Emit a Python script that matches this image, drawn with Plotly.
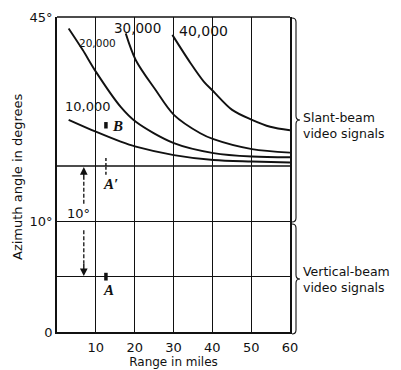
import plotly.graph_objects as go

# ---------------- data ----------------
range_10k = [3.0, 10.0, 16.4, 20.3, 30.1, 40.3, 50.2, 60.0]
angle_10k = [24.3, 21.9, 19.9, 18.9, 17.2, 16.2, 15.9, 15.7]

range_20k = [3.0, 6.6, 10.0, 16.4, 20.3, 30.1, 40.3, 50.2, 60.0]
angle_20k = [42.7, 38.4, 34.0, 26.9, 23.9, 19.6, 17.6, 16.9, 16.75]

range_30k = [17.7, 20.3, 25.4, 30.1, 36.9, 40.3, 50.2, 60.0]
angle_30k = [41.7, 36.3, 30.3, 25.3, 21.6, 20.4, 18.4, 17.7]

range_40k = [29.7, 34.4, 37.8, 40.3, 45.1, 50.2, 54.9, 60.0]
angle_40k = [41.4, 35.7, 32.0, 30.0, 26.3, 24.3, 22.9, 22.2]

curve_labels = ["10,000", "20,000", "30,000", "40,000"]
label_x = [8.0, 10.5, 20.8, 37.7]
label_y = [26.9, 39.8, 42.8, 42.2]
label_size = [13, 10.5, 13.5, 14]

# marker points (range in miles, azimuth in degrees)
point_names = ["A", "B", "A'"]
point_range = [12.6, 12.6, 12.6]
point_angle = [5.0, 23.2, 15.0]

x_ticks = [10, 20, 30, 40, 50, 60]
upper_ticks = [45]
upper_ticktext = ["45°"]
lower_ticks = [0, 5, 10]
lower_ticktext = ["0", "", "10°"]

FONT = "DejaVu Sans"
INK = "#111111"

fig = go.Figure()

for xs, ys in [(range_10k, angle_10k), (range_20k, angle_20k),
               (range_30k, angle_30k), (range_40k, angle_40k)]:
    fig.add_trace(go.Scatter(x=xs, y=ys, mode="lines", xaxis="x", yaxis="y",
                             line=dict(color=INK, width=1.9, shape="spline", smoothing=0.9),
                             showlegend=False, hoverinfo="skip"))

# B bar (upper scale)
fig.add_trace(go.Scatter(x=[point_range[1], point_range[1]],
                         y=[point_angle[1] - 0.65, point_angle[1] + 0.65],
                         mode="lines", xaxis="x", yaxis="y",
                         line=dict(color=INK, width=3.5), showlegend=False))
# A bar (lower scale)
fig.add_trace(go.Scatter(x=[point_range[0], point_range[0]],
                         y=[point_angle[0] - 0.35, point_angle[0] + 0.35],
                         mode="lines", xaxis="x", yaxis="y2",
                         line=dict(color=INK, width=3.5), showlegend=False))
# A' dashed tick, crossing the 15 degree boundary
fig.add_trace(go.Scatter(x=[point_range[2], point_range[2]],
                         y=[point_angle[2], point_angle[2] + 1.8],
                         mode="lines", xaxis="x", yaxis="y",
                         line=dict(color=INK, width=1.4, dash="3px,2px"), showlegend=False))
fig.add_trace(go.Scatter(x=[point_range[2], point_range[2]],
                         y=[point_angle[2] - 0.8, point_angle[2]],
                         mode="lines", xaxis="x", yaxis="y2",
                         line=dict(color=INK, width=1.4, dash="3px,2px"), showlegend=False))

# 10 degree separation arrows (between A' at 15 and A at 5)
arrow_x = 6.9
fig.add_trace(go.Scatter(x=[arrow_x, arrow_x], y=[11.6, 13.8], mode="lines",
                         xaxis="x", yaxis="y2",
                         line=dict(color=INK, width=1.3, dash="4px,2px"), showlegend=False))
fig.add_trace(go.Scatter(x=[arrow_x, arrow_x], y=[9.2, 6.2], mode="lines",
                         xaxis="x", yaxis="y2",
                         line=dict(color=INK, width=1.3, dash="4px,2px"), showlegend=False))

annotations = []
annotations.append(dict(x=arrow_x, y=point_angle[2] - 0.1, xref="x", yref="y2",
                        ax=0, ay=14, axref="pixel", ayref="pixel", text="",
                        showarrow=True, arrowhead=2, arrowsize=1.1, arrowwidth=1.4,
                        arrowcolor=INK))
annotations.append(dict(x=arrow_x, y=point_angle[0] + 0.05, xref="x", yref="y2",
                        ax=0, ay=-14, axref="pixel", ayref="pixel", text="",
                        showarrow=True, arrowhead=2, arrowsize=1.1, arrowwidth=1.4,
                        arrowcolor=INK))
annotations.append(dict(x=5.6, y=10.75, xref="x", yref="y2", text="10°",
                        showarrow=False, font=dict(family=FONT, size=13, color=INK)))

for t, lx, ly, s in zip(curve_labels, label_x, label_y, label_size):
    annotations.append(dict(x=lx, y=ly, xref="x", yref="y", text=t, showarrow=False,
                            font=dict(family=FONT, size=s, color=INK)))

serif = dict(family="Liberation Serif", size=15, color=INK)
annotations.append(dict(x=15.5, y=23.0, xref="x", yref="y", text="<b><i>B</i></b>",
                        showarrow=False, font=serif))
annotations.append(dict(x=13.9, y=13.4, xref="x", yref="y2", text="<b><i>A′</i></b>",
                        showarrow=False, font=serif))
annotations.append(dict(x=13.3, y=3.8, xref="x", yref="y2", text="<b><i>A</i></b>",
                        showarrow=False, font=serif))

# side labels and axis titles
W, H = 401, 370
L, R, T, B = 57, 290, 17, 332
pw, ph = R - L, B - T


def px_x(x):
    return (x - L) / pw


def px_y(y):
    return (B - y) / ph


annotations.append(dict(x=px_x(301), y=px_y(125), xref="paper", yref="paper",
                        xanchor="left", yanchor="middle", align="left",
                        text="Slant-beam<br>video signals", showarrow=False,
                        font=dict(family=FONT, size=12.5, color=INK)))
annotations.append(dict(x=px_x(301), y=px_y(279), xref="paper", yref="paper",
                        xanchor="left", yanchor="middle", align="left",
                        text="Vertical-beam<br>video signals", showarrow=False,
                        font=dict(family=FONT, size=12.5, color=INK)))
annotations.append(dict(x=px_x(17), y=px_y(177), xref="paper", yref="paper",
                        xanchor="center", yanchor="middle",
                        textangle=-90, text="Azimuth angle in degrees", showarrow=False,
                        font=dict(family=FONT, size=13, color=INK)))

# curly braces (paper coordinates)
def brace(x0, x1, top, bottom):
    mid = (top + bottom) / 2
    xm = (x0 + x1) / 2
    r = 4
    pts = [
        f"M {px_x(x0)},{px_y(top)}",
        f"Q {px_x(xm)},{px_y(top)} {px_x(xm)},{px_y(top + r)}",
        f"L {px_x(xm)},{px_y(mid - r)}",
        f"Q {px_x(xm)},{px_y(mid)} {px_x(x1)},{px_y(mid)}",
        f"Q {px_x(xm)},{px_y(mid)} {px_x(xm)},{px_y(mid + r)}",
        f"L {px_x(xm)},{px_y(bottom - r)}",
        f"Q {px_x(xm)},{px_y(bottom)} {px_x(x0)},{px_y(bottom)}",
    ]
    return dict(type="path", xref="paper", yref="paper", path=" ".join(pts),
                line=dict(color=INK, width=1.1))


split = px_y(166)

shapes = [brace(292, 300, 18, 222), brace(292, 300, 224, 334)]
# frame lines at 15 deg (scale break) and 45 deg (top)
for yy in [split, 1.0]:
    shapes.append(dict(type="line", xref="paper", yref="paper", x0=0, x1=1,
                       y0=yy, y1=yy, line=dict(color=INK, width=1.6)))

axis_common = dict(showline=True, linecolor=INK, linewidth=1.6, mirror=True,
                   zeroline=False, ticks="", color=INK, automargin=False,
                   tickfont=dict(family=FONT, size=13, color=INK))

fig.update_layout(
    width=W, height=H,
    margin=dict(l=L, r=W - R, t=T, b=H - B, pad=0, autoexpand=False),
    paper_bgcolor="white", plot_bgcolor="white",
    showlegend=False,
    xaxis=dict(range=[0, 60], tickvals=x_ticks, showgrid=True, gridcolor=INK,
               gridwidth=1.3, anchor="y2", showline=True, linecolor=INK,
               linewidth=1.6, mirror=False, zeroline=False, ticks="",
               automargin=False, ticklabelstandoff=3,
               tickfont=dict(family=FONT, size=13, color=INK),
               title=dict(text="Range in miles", standoff=3,
                          font=dict(family=FONT, size=12, color=INK))),
    yaxis=dict(domain=[split, 1], range=[15, 45], tickvals=upper_ticks,
               ticktext=upper_ticktext, showgrid=False, anchor="x", **axis_common),
    yaxis2=dict(domain=[0, split], range=[0, 15], tickvals=lower_ticks,
                ticktext=lower_ticktext, showgrid=True, gridcolor=INK, gridwidth=1.3,
                anchor="x", **axis_common),
    annotations=annotations,
    shapes=shapes,
)

fig.write_html("out.html", config={"displayModeBar": False},
               post_script="document.body.style.margin='0px';document.body.style.padding='0px';")
